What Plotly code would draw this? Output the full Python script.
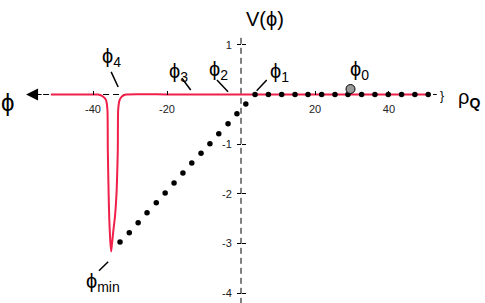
import plotly.graph_objects as go

# ---------------- data ----------------
# red potential curve V(phi)
curve_x = [-51.4, -45.0, -40.0, -38.6, -37.3, -36.5, -36.1, -36.0, -35.8, -35.6, -35.35, -35.1,
           -34.9, -34.5, -34.05, -33.6, -33.3, -33.2, -32.8, -32.2, -31.1, -20.0, 0.0, 20.0, 40.0, 51.1]
curve_y = [0.0, 0.0, 0.0, 0.0, -0.04, -0.11, -0.31, -1.12, -1.92, -2.52, -2.93, -3.16,
           -3.02, -2.74, -2.44, -1.92, -1.12, -0.31, -0.11, -0.04, 0.0, 0.0, 0.0, 0.0, 0.0, 0.0]

# dotted path: flat part (rho_Q side) and diagonal part towards phi_min
flat_dots_x = [3.8, 7.4, 11.0, 14.6, 18.1, 21.8, 25.4, 28.9, 32.6, 36.2, 39.8, 43.4, 47.0, 50.6]
flat_dots_y = [0.0] * 14
diag_dots_x = [1.3, -1.1, -3.5, -6.0, -8.4, -10.8, -13.3, -15.7, -18.1, -20.5, -22.9, -25.4, -27.8, -30.2, -32.7]
diag_dots_y = [-0.19, -0.39, -0.59, -0.79, -0.99, -1.18, -1.38, -1.58, -1.78, -1.98, -2.18, -2.38, -2.58, -2.78, -2.97]

# phi_0 (grey point)
phi0_x = [29.6]
phi0_y = [0.11]

# tick labels
x_tickvals = [-40, -20, 20, 40]
x_ticktext = ["-40", "-20", "20", "40"]
y_tickvals = [1, -1, -2, -3, -4]
y_ticktext = ["1", "-1", "-2", "-3", "-4"]

PHI = "\u03d5"
# labels: text, x, y
labels = [
    (PHI + "<sub>4</sub>", -35.0, 0.74),
    (PHI + "<sub>3</sub>", -16.9, 0.45),
    (PHI + "<sub>2</sub>", -6.2, 0.49),
    (PHI + "<sub>1</sub>", 10.4, 0.45),
    (PHI + "<sub>0</sub>", 32.0, 0.49),
    (PHI + "<sub>min</sub>", -37.2, -3.79),
]
# leader lines: x0, y0, x1, y1
leaders = [
    (-35.1, 0.454, -33.2, 0.151),
    (-16.0, 0.332, -13.6, 0.09),
    (-6.5, 0.292, -3.5, 0.056),
    (6.95, 0.292, 4.24, 0.076),
    (-35.9, -3.364, -38.4, -3.545),
]

X_RANGE = [-65.14, 65.95]
Y_RANGE = [-4.195, 1.901]
FONT = "Liberation Sans, Arial, Helvetica, sans-serif"
RED = "#f0204a"

fig = go.Figure()

# axis lines (dashed)
fig.add_shape(type="line", x0=-53.5, x1=52.9, y0=0, y1=0,
              line=dict(color="black", width=1, dash="6px,4px"), layer="below")
fig.add_shape(type="line", x0=0, x1=0, y0=1.14, y1=Y_RANGE[0],
              line=dict(color="black", width=1, dash="6px,4px"), layer="below")

fig.add_trace(go.Scatter(x=curve_x, y=curve_y, mode="lines",
                         line=dict(color=RED, width=2, shape="spline", smoothing=0.5),
                         hoverinfo="skip", showlegend=False))
fig.add_trace(go.Scatter(x=flat_dots_x + diag_dots_x, y=flat_dots_y + diag_dots_y, mode="markers",
                         marker=dict(color="black", size=5.5), hoverinfo="skip", showlegend=False))
fig.add_trace(go.Scatter(x=phi0_x, y=phi0_y, mode="markers",
                         marker=dict(color="#9a9a9a", size=9, line=dict(color="black", width=1)),
                         hoverinfo="skip", showlegend=False))

for (x0, y0, x1, y1) in leaders:
    fig.add_shape(type="line", x0=x0, y0=y0, x1=x1, y1=y1, line=dict(color="black", width=1.5))

for (t, x, y) in labels:
    fig.add_annotation(x=x, y=y, text=t, showarrow=False, font=dict(size=20, color="black", family=FONT))

# V(phi) title
fig.add_annotation(x=6.5, y=1.52, text="V(" + PHI + ")", showarrow=False,
                   font=dict(size=20, color="black", family=FONT))
# phi on the left with arrow
fig.add_annotation(x=-63.2, y=-0.17, text=PHI, showarrow=False, font=dict(size=24, color="black", family=FONT))
fig.add_annotation(x=-58.1, y=0, ax=17, ay=0, text="", showarrow=True, arrowhead=2,
                   arrowsize=2, arrowwidth=1.2, arrowcolor="black")
# brace and rho_Q on the right
fig.add_annotation(x=54.3, y=-0.03, text="}", showarrow=False, font=dict(size=12, color="black", family=FONT))
fig.add_annotation(x=61.6, y=-0.08, text="ρ<sub><b>Q</b></sub>", showarrow=False,
                   font=dict(size=20, color="black", family=FONT))

fig.update_layout(
    width=485, height=303, margin=dict(l=0, r=0, t=0, b=0),
    paper_bgcolor="white", plot_bgcolor="white",
    font=dict(family=FONT, color="#222"),
    xaxis=dict(range=X_RANGE, showgrid=False, zeroline=False, showline=False,
               tickvals=x_tickvals, ticktext=x_ticktext, ticks="inside", ticklen=4,
               tickcolor="black", tickfont=dict(size=11, color="#222"),
               anchor="free", position=1 - 94.5 / 303, ticklabelstandoff=6),
    yaxis=dict(range=Y_RANGE, showgrid=False, zeroline=False, showline=False,
               tickvals=y_tickvals, ticktext=y_ticktext, ticks="outside", ticklen=4,
               tickcolor="black", tickfont=dict(size=11, color="#222"),
               anchor="free", position=241 / 485, ticklabelstandoff=3),
    yaxis2=dict(range=Y_RANGE, overlaying="y", showgrid=False, zeroline=False, showline=False,
                tickvals=y_tickvals, ticks="inside", ticklen=4, tickcolor="black",
                showticklabels=False, anchor="free", position=241 / 485, side="left"),
)
fig.add_trace(go.Scatter(x=[None], y=[None], yaxis="y2", showlegend=False, hoverinfo="skip"))

fig.write_html("out.html", config={"displayModeBar": False},
               post_script="document.body.style.margin='0';document.body.style.overflow='hidden';")
